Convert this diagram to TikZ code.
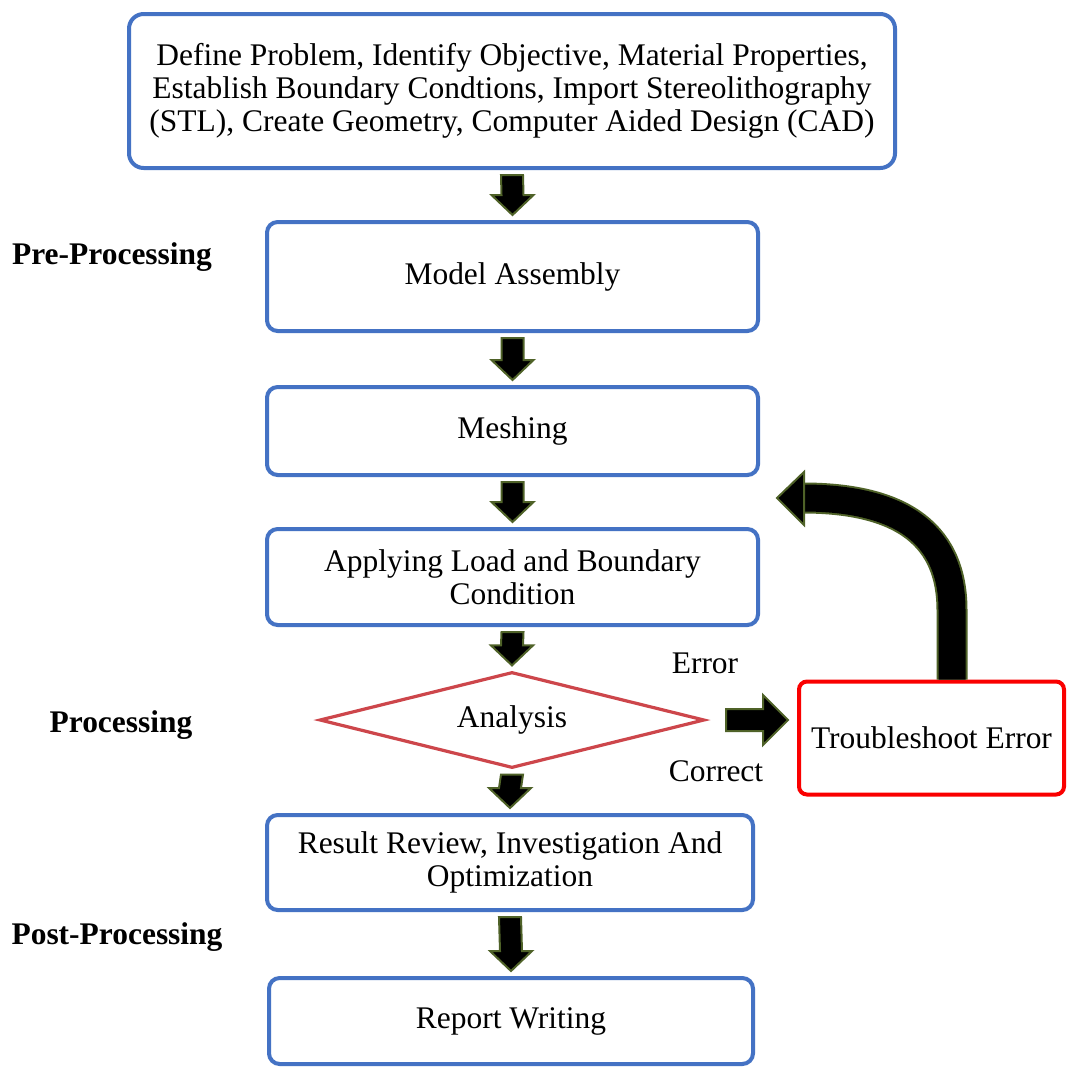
\documentclass[tikz,border=0pt]{standalone}
\usepackage{fontspec}
\setmainfont{Liberation Serif}
\usetikzlibrary{shapes.geometric,calc}
\definecolor{boxblue}{RGB}{68,114,196}
\definecolor{dred}{RGB}{205,70,75}
\definecolor{brred}{RGB}{250,0,0}
\definecolor{glow}{RGB}{79,98,40}
\newcommand\pxu{0.75pt}
\newcommand\fs{\fontsize{23.6}{24.8}\selectfont}
\tikzset{
  box/.style={draw=boxblue, line width=3pt, rounded corners=8pt, fill=white, align=center, font=\fs, inner sep=0pt},
  decision/.style={diamond, aspect=4, draw=dred, line width=2.4pt, font=\fs, inner sep=0pt},
  tsbox/.style={draw=brred, line width=3pt, rounded corners=6pt, fill=white, align=center, font=\fs, inner sep=0pt},
  phase/.style={font=\fs\bfseries, inner sep=0pt},
  lbl/.style={font=\fs, inner sep=0pt},
  blk/.style={fill=black, draw=glow, line width=1.5pt, line join=miter},
}
\newcommand\blockdown[2]{%
  \coordinate (bs) at ($(#1.south)+(0,5)$);
  \coordinate (bt) at ($(#2.north)+(0,-5)$);
  \filldraw[blk] ($(bs)+(-11,0)$) -- ($(bt)+(-11,-20)$) -- ($(bt)+(-21,-20)$) -- (bt)
     -- ($(bt)+(21,-20)$) -- ($(bt)+(11,-20)$) -- ($(bs)+(11,0)$) -- cycle;}
\newcommand\blockright[2]{%
  \coordinate (bs) at ($(#1.east)+(20,0)$);
  \coordinate (bt) at ($(#2.west|-#1.east)+(-9,0)$);
  \filldraw[blk] ($(bs)+(0,-11)$) -- ($(bt)+(-25,-11)$) -- ($(bt)+(-25,-25)$) -- (bt)
     -- ($(bt)+(-25,25)$) -- ($(bt)+(-25,11)$) -- ($(bs)+(0,11)$) -- cycle;}
\begin{document}
\begin{tikzpicture}[x=0.75pt, y=-0.75pt]
\useasboundingbox (0,0) rectangle (1067,1068);
\fill[white] (0,0) rectangle (1067,1068);

\node[box, rounded corners=11pt, minimum width=766*\pxu, minimum height=154*\pxu] (top) at (512,91)
  {Define Problem, Identify Objective, Material Properties,\\Establish Boundary Condtions, Import Stereolithography\\(STL), Create Geometry, Computer Aided Design (CAD)};
\node[box, minimum width=491*\pxu, minimum height=109*\pxu] (ma) at (512.5,276.5) {Model Assembly};
\node[box, minimum width=491*\pxu, minimum height=88*\pxu] (mesh) at (512.5,431) {Meshing};
\node[box, minimum width=491*\pxu, minimum height=96*\pxu] (apply) at (512.5,577) {Applying Load and Boundary\\Condition};
\node[decision, minimum width=385*\pxu, minimum height=96*\pxu] (an) at (512,720) {Analysis};
\node[tsbox, minimum width=265*\pxu, minimum height=113*\pxu] (ts) at (931.5,738) {Troubleshoot Error};
\node[box, minimum width=486*\pxu, minimum height=95*\pxu] (res) at (510,862.5) {Result Review, Investigation And\\Optimization};
\node[box, minimum width=484*\pxu, minimum height=86*\pxu] (rep) at (511,1021) {Report Writing};

\node[phase] (pre) at (112,257) {Pre-Processing};
\node[phase] (proc) at (121,725) {Processing};
\node[phase] (post) at (117,937) {Post-Processing};
\node[lbl] (err) at (705,663) {Error};
\node[lbl] (cor) at (716,771) {Correct};

\blockdown{top}{ma}
\blockdown{ma}{mesh}
\blockdown{mesh}{apply}
\blockdown{apply}{an}
\blockdown{an}{res}
\blockdown{res}{rep}
\blockright{an}{ts}

\coordinate (loopend) at (777,498);
\draw[line width=27*\pxu, black, preaction={draw=glow, line width=31*\pxu}]
  ($(ts.north)+(20.5,0)$) -- (952,610) .. controls (952,528) and (892,498) .. ($(loopend)+(26,0)$);
\filldraw[blk] ($(loopend)+(27,-26)$) -- (loopend) -- ($(loopend)+(27,27)$) -- cycle;
\end{tikzpicture}
\end{document}
